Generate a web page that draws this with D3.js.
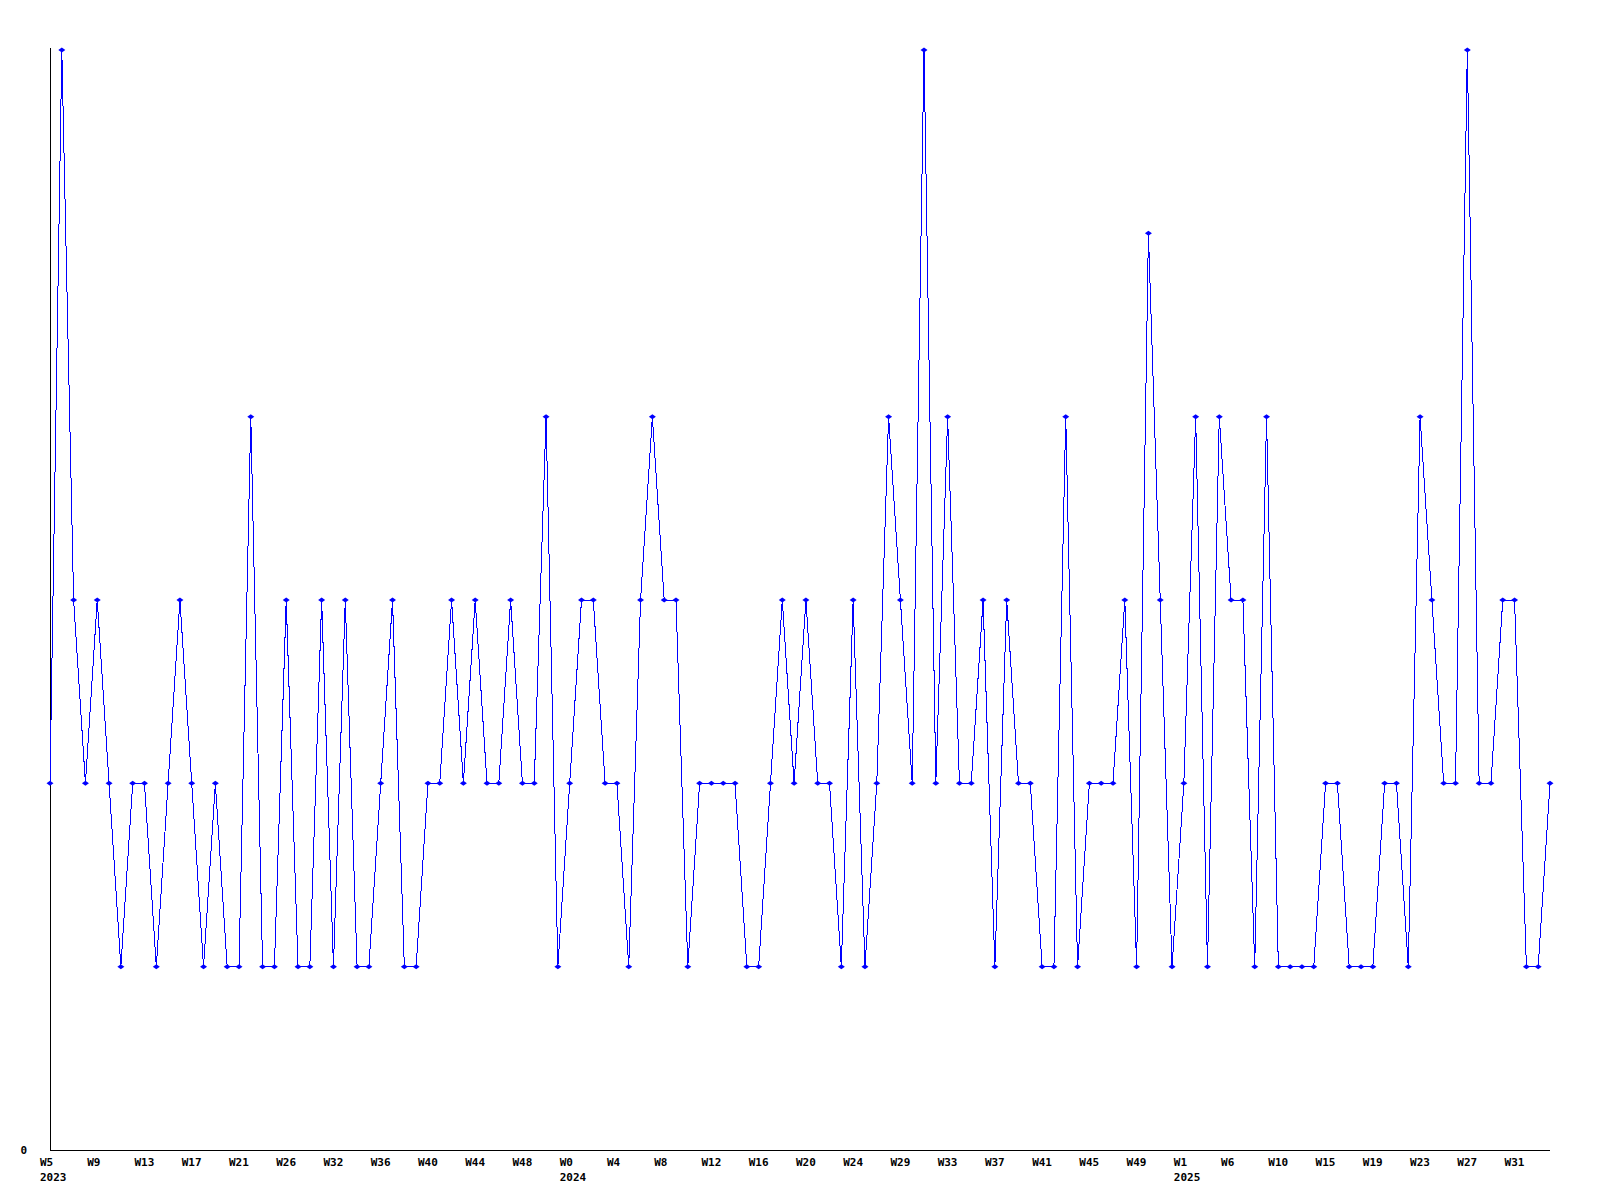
<!DOCTYPE html>
<html>
<head>
<meta charset="utf-8">
<script src="https://cdn.jsdelivr.net/npm/d3@7"></script>
<style>
  html, body { margin: 0; padding: 0; background: #fff; }
  svg { display: block; }
  text { font-family: "DejaVu Sans Mono", "Liberation Mono", monospace; font-weight: bold; font-size: 11px; fill: #000; }
</style>
</head>
<body>
<svg id="chart" width="1600" height="1200"></svg>
<script>
// Weekly values, one per point (128 points)
const values = [
  2, 6, 3, 2, 3, 2, 1, 2, 2, 1, 2, 3, 2, 1, 2, 1,
  1, 4, 1, 1, 3, 1, 1, 3, 1, 3, 1, 1, 2, 3, 1, 1,
  2, 2, 3, 2, 3, 2, 2, 3, 2, 2, 4, 1, 2, 3, 3, 2,
  2, 1, 3, 4, 3, 3, 1, 2, 2, 2, 2, 1, 1, 2, 3, 2,
  3, 2, 2, 1, 3, 1, 2, 4, 3, 2, 6, 2, 4, 2, 2, 3,
  1, 3, 2, 2, 1, 1, 4, 1, 2, 2, 2, 3, 1, 5, 3, 1,
  2, 4, 1, 4, 3, 3, 1, 4, 1, 1, 1, 1, 2, 2, 1, 1,
  1, 2, 2, 1, 4, 3, 2, 2, 6, 2, 2, 3, 3, 1, 1, 2
];
// Tick labels shown every 4th point
const tickLabels = [
  "W5", "W9", "W13", "W17", "W21", "W26", "W32", "W36",
  "W40", "W44", "W48", "W0", "W4", "W8", "W12", "W16",
  "W20", "W24", "W29", "W33", "W37", "W41", "W45", "W49",
  "W1", "W6", "W10", "W15", "W19", "W23", "W27", "W31"
];
const tickYears = [
  "2023", "", "", "", "", "", "", "", "", "", "", "2024", "", "", "", "",
  "", "", "", "", "", "", "", "", "2025", "", "", "", "", "", "", ""
];
const tickEvery = 4;
const yTicks = [0];

(function () {
  const svg = d3.select("#chart");
  const mLeft = 50, mRight = 1550, mTop = 50, mBottom = 1150;

  const x = d3.scaleLinear().domain([0, values.length - 1]).range([mLeft, mRight]);
  const y = d3.scaleLinear().domain([0, 6]).range([mBottom, mTop]);

  // Axes lines
  svg.append("line")
    .attr("x1", mLeft + 0.5).attr("x2", mLeft + 0.5)
    .attr("y1", mTop - 2).attr("y2", mBottom)
    .attr("stroke", "#000").attr("stroke-width", 1).attr("shape-rendering", "crispEdges");
  svg.append("line")
    .attr("x1", mLeft).attr("x2", mRight)
    .attr("y1", mBottom + 0.5).attr("y2", mBottom + 0.5)
    .attr("stroke", "#000").attr("stroke-width", 1).attr("shape-rendering", "crispEdges");

  // Y tick label
  svg.selectAll("text.ytick").data(yTicks).enter().append("text")
    .attr("class", "ytick")
    .attr("x", 27).attr("y", d => y(d) + 4)
    .attr("text-anchor", "end")
    .text(d => d);

  // X tick labels
  const ticks = tickLabels.map((t, k) => ({ i: k * tickEvery, label: t, year: tickYears[k] }));
  svg.selectAll("text.xtick").data(ticks).enter().append("text")
    .attr("class", "xtick")
    .attr("x", d => x(d.i) - 10)
    .attr("y", mBottom + 16)
    .text(d => d.label);
  svg.selectAll("text.xyear").data(ticks.filter(d => d.year)).enter().append("text")
    .attr("class", "xyear")
    .attr("x", d => x(d.i) - 10)
    .attr("y", mBottom + 31)
    .text(d => d.year);

  // Line
  const line = d3.line().x((d, i) => x(i)).y(d => y(d));
  svg.append("path")
    .datum(values)
    .attr("d", line)
    .attr("fill", "none")
    .attr("stroke", "#0000ff")
    .attr("stroke-width", 1)
    .attr("shape-rendering", "crispEdges");

  // Markers (small diamonds)
  svg.selectAll("path.mk").data(values).enter().append("path")
    .attr("class", "mk")
    .attr("d", (d, i) => {
      const cx = x(i), cy = y(d);
      return `M${cx - 3.5},${cy} L${cx},${cy - 2.5} L${cx + 3.5},${cy} L${cx},${cy + 2.5} Z`;
    })
    .attr("fill", "#0000ff")
    .attr("stroke", "none");
})();
</script>
</body>
</html>
